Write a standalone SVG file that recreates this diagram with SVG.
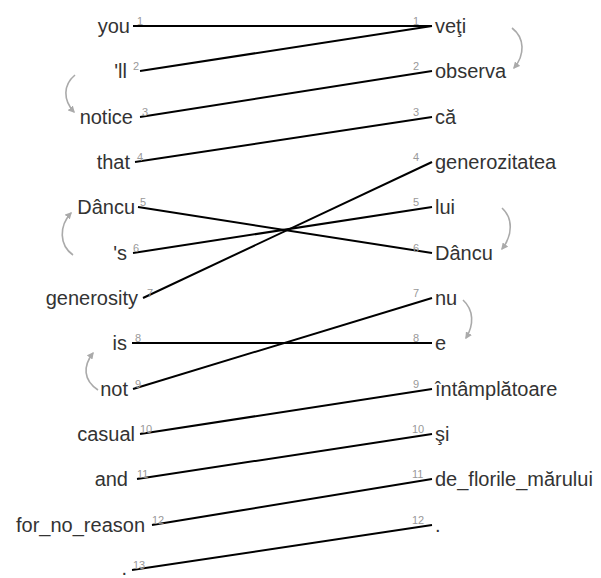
<svg xmlns="http://www.w3.org/2000/svg" width="601" height="578" viewBox="0 0 601 578">
<defs>
<style>
.w{font-family:"Liberation Sans",Arial,sans-serif;font-size:20px;fill:#333}
.l{text-anchor:end}
.n{font-family:"Liberation Sans",Arial,sans-serif;font-size:11px;fill:#999}
.c{stroke:#000;stroke-width:2;fill:none}
.a{stroke:#aaa;stroke-width:1.6;fill:none;marker-end:url(#ah)}
</style>
<marker id="ah" viewBox="0 0 10 10" refX="8" refY="5" markerWidth="7" markerHeight="7" markerUnits="userSpaceOnUse" orient="auto">
<path d="M0,0 L10,5 L0,10 z" fill="#aaa"/>
</marker>
</defs>
<rect width="601" height="578" fill="#fff"/>
<g id="connectors">
<line class="c" x1="133" y1="26" x2="432" y2="26"/>
<line class="c" x1="140" y1="71" x2="432" y2="26"/>
<line class="c" x1="140" y1="117" x2="432" y2="71"/>
<line class="c" x1="135" y1="162" x2="432" y2="117"/>
<line class="c" x1="138" y1="207" x2="432" y2="253"/>
<line class="c" x1="133" y1="253" x2="432" y2="207"/>
<line class="c" x1="143" y1="298" x2="432" y2="162"/>
<line class="c" x1="132" y1="343" x2="432" y2="343"/>
<line class="c" x1="133" y1="389" x2="432" y2="298"/>
<line class="c" x1="140" y1="434" x2="432" y2="389"/>
<line class="c" x1="137" y1="479" x2="432" y2="434"/>
<line class="c" x1="152" y1="525" x2="432" y2="479"/>
<line class="c" x1="132" y1="570" x2="432" y2="525"/>
</g>
<g id="reorder-arrows">
<path class="a" d="M512,28 C525,38 525,55 514,68"/>
<path class="a" d="M75,75 C63,85 63,100 74,112"/>
<path class="a" d="M73,255 C59,245 59,226 71,213"/>
<path class="a" d="M502,208 C513,218 513,235 502,249"/>
<path class="a" d="M463,300 C474,310 474,325 466,338"/>
<path class="a" d="M98,390 C83,380 83,366 93,353"/>
</g>
<g id="src1"><text class="w l" x="130" y="33">you</text><text class="n" x="137" y="25">1</text></g>
<g id="src2"><text class="w l" x="127" y="78">'ll</text><text class="n" x="133" y="70">2</text></g>
<g id="src3"><text class="w l" x="133" y="124">notice</text><text class="n" x="142" y="116">3</text></g>
<g id="src4"><text class="w l" x="130" y="169">that</text><text class="n" x="137" y="161">4</text></g>
<g id="src5"><text class="w l" x="135" y="214">Dâncu</text><text class="n" x="140" y="206">5</text></g>
<g id="src6"><text class="w l" x="127" y="260">'s</text><text class="n" x="133" y="252">6</text></g>
<g id="src7"><text class="w l" x="138" y="305">generosity</text><text class="n" x="147" y="297">7</text></g>
<g id="src8"><text class="w l" x="127" y="350">is</text><text class="n" x="135" y="342">8</text></g>
<g id="src9"><text class="w l" x="128" y="396">not</text><text class="n" x="135" y="388">9</text></g>
<g id="src10"><text class="w l" x="135" y="441">casual</text><text class="n" x="140" y="433">10</text></g>
<g id="src11"><text class="w l" x="128" y="486">and</text><text class="n" x="137" y="478">11</text></g>
<g id="src12"><text class="w l" x="145" y="532">for_no_reason</text><text class="n" x="152" y="524">12</text></g>
<g id="src13"><text class="w l" x="127" y="575">.</text><text class="n" x="133" y="569">13</text></g>
<g id="tgt1"><text class="w" x="435" y="33">veţi</text><text class="n" x="413" y="25">1</text></g>
<g id="tgt2"><text class="w" x="435" y="78">observa</text><text class="n" x="413" y="70">2</text></g>
<g id="tgt3"><text class="w" x="435" y="124">că</text><text class="n" x="413" y="116">3</text></g>
<g id="tgt4"><text class="w" x="435" y="169">generozitatea</text><text class="n" x="413" y="161">4</text></g>
<g id="tgt5"><text class="w" x="435" y="214">lui</text><text class="n" x="413" y="206">5</text></g>
<g id="tgt6"><text class="w" x="435" y="260">Dâncu</text><text class="n" x="413" y="252">6</text></g>
<g id="tgt7"><text class="w" x="435" y="305">nu</text><text class="n" x="413" y="297">7</text></g>
<g id="tgt8"><text class="w" x="435" y="350">e</text><text class="n" x="413" y="342">8</text></g>
<g id="tgt9"><text class="w" x="435" y="396">întâmplătoare</text><text class="n" x="413" y="388">9</text></g>
<g id="tgt10"><text class="w" x="435" y="441">şi</text><text class="n" x="412" y="433">10</text></g>
<g id="tgt11"><text class="w" x="435" y="486">de_florile_mărului</text><text class="n" x="412" y="478">11</text></g>
<g id="tgt12"><text class="w" x="435" y="532">.</text><text class="n" x="412" y="524">12</text></g>
</svg>
